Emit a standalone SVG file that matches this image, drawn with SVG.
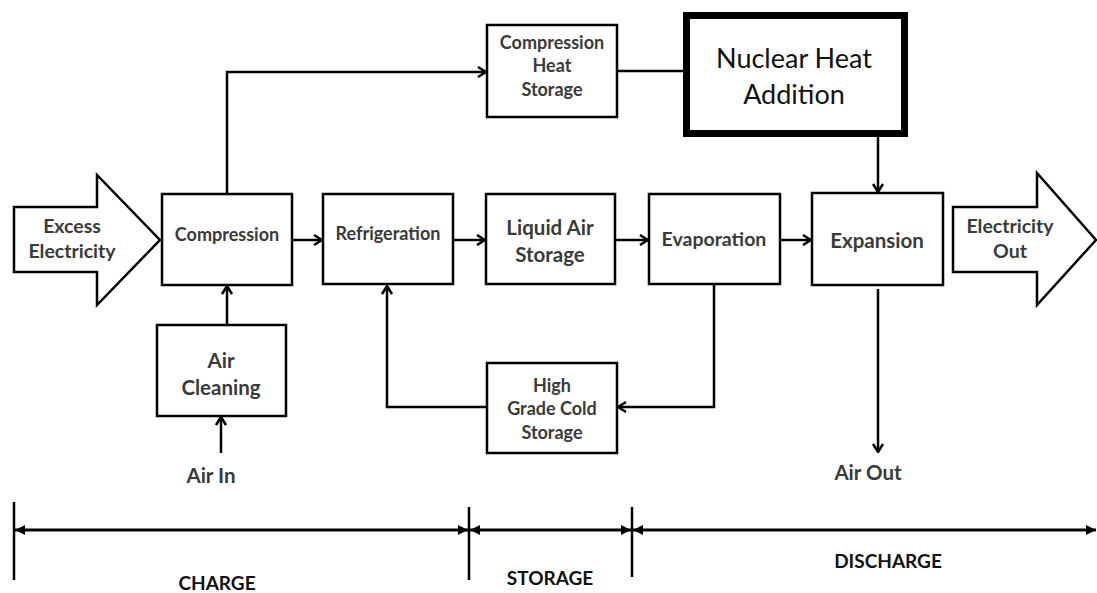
<svg xmlns="http://www.w3.org/2000/svg" width="1097" height="593" viewBox="0 0 1097 593">
<style>
.box{fill:#fff;stroke:#000;stroke-width:2.5}
.big{fill:#fff;stroke:#000;stroke-width:7}
.lbl{font-family:Lato,"Liberation Sans",sans-serif;font-weight:bold;font-size:20.500px;fill:#3a3a3a;text-anchor:middle;dominant-baseline:central}
.sm{font-size:18px}
.md{font-size:19.500px}
.nuc{font-family:Lato,"Liberation Sans",sans-serif;font-weight:normal;font-size:27px;fill:#111;text-anchor:middle;dominant-baseline:central}
.ph{font-family:Lato,"Liberation Sans",sans-serif;font-weight:bold;font-size:19px;fill:#111;text-anchor:middle;dominant-baseline:central}
.con{fill:none;stroke:#000;stroke-width:2.5;marker-end:url(#open)}
.lin{fill:none;stroke:#000;stroke-width:2.5}
.dim{fill:none;stroke:#000;stroke-width:3;marker-start:url(#solid);marker-end:url(#solid)}
.tick{stroke:#000;stroke-width:2.5}
</style>
<defs>
<marker id="open" viewBox="0 0 10 12" refX="9" refY="6" markerWidth="10" markerHeight="12" markerUnits="userSpaceOnUse" orient="auto">
<path d="M1,1 L9,6 L1,11" fill="none" stroke="#000" stroke-width="2.5"/>
</marker>
<marker id="solid" viewBox="0 0 10 10" refX="10" refY="5" markerWidth="11" markerHeight="10" markerUnits="userSpaceOnUse" orient="auto-start-reverse">
<path d="M0,0 L10,5 L0,10 z" fill="#000"/>
</marker>
</defs>

<g id="connectors">
<polyline class="con" points="227,194 227,72 486,72"/>
<line class="lin" x1="617" y1="71" x2="684" y2="71"/>
<line class="con" x1="878" y1="137" x2="878" y2="192"/>
<line class="con" x1="292" y1="240" x2="322" y2="240"/>
<line class="con" x1="453" y1="240" x2="485" y2="240"/>
<line class="con" x1="615" y1="240" x2="648" y2="240"/>
<line class="con" x1="780" y1="240" x2="811" y2="240"/>
<line class="con" x1="227" y1="325" x2="227" y2="286"/>
<line class="con" x1="221" y1="453" x2="221" y2="417"/>
<polyline class="con" points="714,285 714,407 618,407"/>
<polyline class="con" points="487,407 387,407 387,286"/>
<line class="con" x1="878" y1="289" x2="878" y2="452"/>
</g>

<g id="excess-electricity">
<path class="box" d="M14,207 L97,207 L97,175 L160,240 L97,305 L97,272 L14,272 Z"/>
<text class="lbl md" x="72" y="225">Excess</text>
<text class="lbl md" x="72" y="250">Electricity</text>
</g>
<g id="compression">
<rect class="box" x="162" y="194" width="130" height="91"/>
<text class="lbl sm" x="227" y="234">Compression</text>
</g>
<g id="air-cleaning">
<rect class="box" x="157" y="325" width="129" height="91"/>
<text class="lbl" x="221" y="360">Air</text>
<text class="lbl" x="221" y="387">Cleaning</text>
</g>
<g id="air-in">
<text class="lbl" x="211" y="475">Air In</text>
</g>
<g id="compression-heat-storage">
<rect class="box" x="487" y="25" width="130" height="92"/>
<text class="lbl sm" x="552" y="42">Compression</text>
<text class="lbl sm" x="552" y="65">Heat</text>
<text class="lbl sm" x="552" y="89">Storage</text>
</g>
<g id="nuclear-heat-addition">
<rect class="big" x="686.500" y="15.500" width="218" height="118"/>
<text class="nuc" x="794" y="57">Nuclear Heat</text>
<text class="nuc" x="794" y="93">Addition</text>
</g>
<g id="refrigeration">
<rect class="box" x="323" y="194" width="130" height="90"/>
<text class="lbl sm" x="388" y="233">Refrigeration</text>
</g>
<g id="liquid-air-storage">
<rect class="box" x="486" y="194" width="129" height="90"/>
<text class="lbl" x="550" y="227">Liquid Air</text>
<text class="lbl" x="550" y="254">Storage</text>
</g>
<g id="evaporation">
<rect class="box" x="649" y="194" width="131" height="90"/>
<text class="lbl md" x="714" y="238">Evaporation</text>
</g>
<g id="expansion">
<rect class="box" x="812" y="193" width="131" height="92"/>
<text class="lbl" x="877" y="240">Expansion</text>
</g>
<g id="electricity-out">
<path class="box" d="M953,207 L1037,207 L1037,173 L1096,240 L1037,305 L1037,272 L953,272 Z"/>
<text class="lbl md" x="1010" y="225">Electricity</text>
<text class="lbl md" x="1010" y="250">Out</text>
</g>
<g id="high-grade-cold-storage">
<rect class="box" x="487" y="363" width="130" height="90"/>
<text class="lbl sm" x="552" y="385">High</text>
<text class="lbl sm" x="552" y="408">Grade Cold</text>
<text class="lbl sm" x="552" y="432">Storage</text>
</g>
<g id="air-out">
<text class="lbl" x="868" y="472">Air Out</text>
</g>

<g id="phases">
<line class="tick" x1="14" y1="502" x2="14" y2="580"/>
<line class="tick" x1="469" y1="507" x2="469" y2="580"/>
<line class="tick" x1="632" y1="507" x2="632" y2="577"/>
<line class="dim" x1="15" y1="530" x2="468" y2="530"/>
<line class="dim" x1="470" y1="530" x2="631" y2="530"/>
<line class="dim" x1="633" y1="530" x2="1096" y2="530"/>
<text class="ph" x="217" y="582">CHARGE</text>
<text class="ph" x="550" y="577">STORAGE</text>
<text class="ph" x="888" y="560">DISCHARGE</text>
</g>
</svg>
